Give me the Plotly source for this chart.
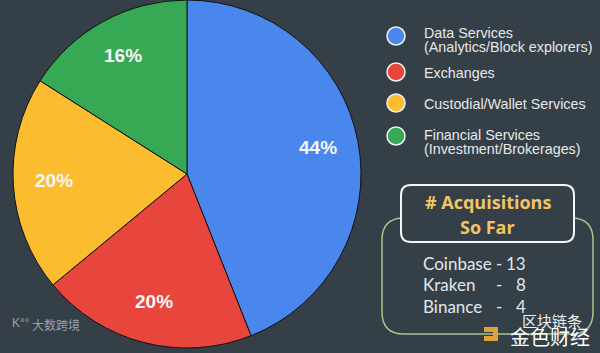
import math
import plotly.graph_objects as go

# ---------------- data ----------------
categories = ["Data Services (Analytics/Block explorers)", "Exchanges",
              "Custodial/Wallet Services", "Financial Services (Investment/Brokerages)"]
shares = [44, 20, 20, 16]
colors = ["#4a87ec", "#e8453c", "#fbbc30", "#37a853"]
legend_lines = [["Data Services", "(Analytics/Block explorers)"], ["Exchanges"],
                ["Custodial/Wallet Services"], ["Financial Services", "(Investment/Brokerages)"]]
exchanges = ["Coinbase", "Kraken", "Binance"]
acquisitions = [13, 8, 4]

BG = "#353f47"
W, H = 600, 353
cx, cy, R = 187, 174, 174

fig = go.Figure()

# pie
fig.add_trace(go.Pie(
    labels=categories, values=shares, sort=False, direction="clockwise", rotation=0,
    marker=dict(colors=colors, line=dict(color="#111111", width=1)),
    textinfo="none", hoverinfo="label+percent", showlegend=False,
    domain=dict(x=[(cx - R) / W, (cx + R) / W], y=[(H - (cy + R)) / H, (H - (cy - R)) / H]),
))

annotations = []
# slice labels computed from data
total = sum(shares)
acc = 0
for v in shares:
    mid = (acc + v / 2) / total * 2 * math.pi
    acc += v
    r = 0.765 * R
    annotations.append(dict(x=cx + r * math.sin(mid), y=cy - r * math.cos(mid) - 1.5, xref="x", yref="y",
                            text=f"{round(v / total * 100)}%", showarrow=False,
                            font=dict(family="Liberation Sans", size=19, color="#f7f7f7", weight="bold")))

# custom legend
leg_y = [36, 72, 103, 136]
fig.add_trace(go.Scatter(x=[396] * 4, y=leg_y, mode="markers", showlegend=False, hoverinfo="skip",
                         marker=dict(size=18, color=colors, line=dict(color="#f2f2f2", width=1.5))))
for yy, lines in zip(leg_y, legend_lines):
    offs = [-3.5, 11] if len(lines) == 2 else [1]
    if len(lines) == 2 and yy > 100:
        offs = [-1.5, 13]
    for ln, o in zip(lines, offs):
        annotations.append(dict(x=423, y=yy + o, xref="x", yref="y", text=ln, showarrow=False,
                                xanchor="left", yanchor="middle", borderpad=0,
                                font=dict(family="Liberation Sans", size=14.3, color="#e6e8ea")))


def rrect(x0, y0, x1, y1, r):
    return (f"M{x0 + r},{y0} L{x1 - r},{y0} Q{x1},{y0} {x1},{y0 + r} L{x1},{y1 - r} "
            f"Q{x1},{y1} {x1 - r},{y1} L{x0 + r},{y1} Q{x0},{y1} {x0},{y1 - r} "
            f"L{x0},{y0 + r} Q{x0},{y0} {x0 + r},{y0} Z")


shapes = [
    dict(type="path", path=rrect(382, 218, 593, 334, 22), xref="x", yref="y",
         line=dict(color="#a9c48f", width=1.5), fillcolor="rgba(0,0,0,0)", layer="below"),
    dict(type="path", path=rrect(401, 185, 574, 242, 10), xref="x", yref="y",
         line=dict(color="#f4f4f4", width=2), fillcolor=BG, layer="below"),
    # small orange watermark logo
    dict(type="path", path="M484,327 L498,327 L498,341 L484,341 L484,336 L493,336 L493,332 L484,332 Z",
         xref="x", yref="y", line=dict(width=0), fillcolor="#e0a23a", layer="above"),
]

title_font = dict(family="Open Sans", size=18, color="#f1c564", weight="bold")
annotations.append(dict(x=487.5, y=202, xref="x", yref="y", text="# Acquisitions", showarrow=False,
                        font=title_font))
annotations.append(dict(x=487.5, y=227, xref="x", yref="y", text="So Far", showarrow=False,
                        font=title_font))

body_font = dict(family="Lato", size=17, color="#e2e7eb")
for i, (name, n) in enumerate(zip(exchanges, acquisitions)):
    yy = 263 + i * 21.5
    annotations.append(dict(x=421, y=yy, xref="x", yref="y", text=name, showarrow=False,
                            xanchor="left", font=body_font))
    annotations.append(dict(x=499, y=yy, xref="x", yref="y", text="-", showarrow=False,
                            xanchor="center", font=body_font))
    annotations.append(dict(x=528, y=yy, xref="x", yref="y", text=str(n), showarrow=False,
                            xanchor="right", font=body_font))

# watermarks
annotations.append(dict(x=30, y=324, xref="x", yref="y", text="大数跨境", showarrow=False, xanchor="left",
                        font=dict(family="Noto Sans CJK SC", size=12, color="#9aa3aa")))
annotations.append(dict(x=10, y=323, xref="x", yref="y", text="K°°", showarrow=False, xanchor="left",
                        font=dict(family="Liberation Sans", size=12, color="#9aa3aa")))
annotations.append(dict(x=552, y=320, xref="x", yref="y", text="区块链条", showarrow=False,
                        font=dict(family="Noto Sans CJK SC", size=15, color="#f0f0f0")))
annotations.append(dict(x=550, y=336, xref="x", yref="y", text="金色财经", showarrow=False,
                        font=dict(family="Noto Sans CJK SC", size=20, color="#ffffff")))

fig.update_layout(
    width=W, height=H, margin=dict(l=0, r=0, t=0, b=0),
    paper_bgcolor=BG, plot_bgcolor=BG, showlegend=False,
    xaxis=dict(range=[0, W], visible=False, fixedrange=True, domain=[0, 1]),
    yaxis=dict(range=[H, 0], visible=False, fixedrange=True, domain=[0, 1]),
    shapes=shapes, annotations=annotations,
)

fig.write_html("out.html")
